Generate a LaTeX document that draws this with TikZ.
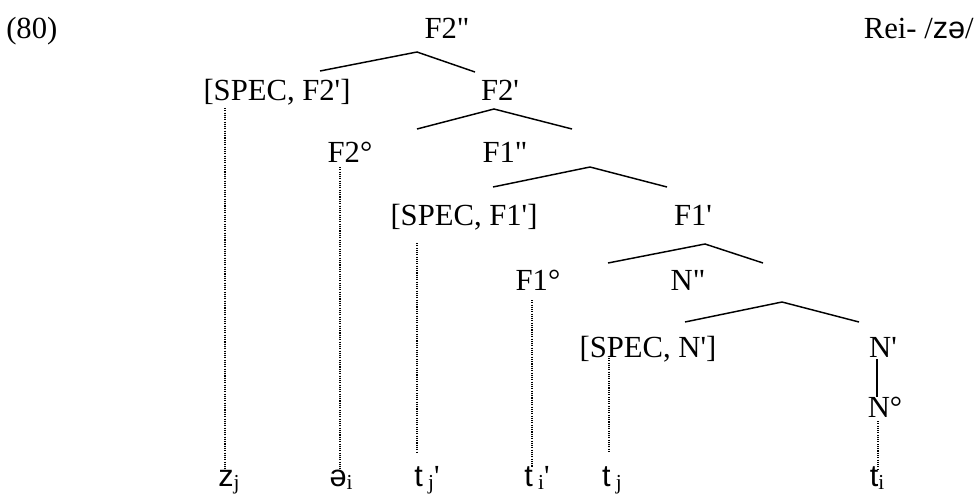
\documentclass[tikz,border=0pt]{standalone}
\usepackage{fontspec}
\setmainfont{Liberation Serif}[Ligatures=TeXOff]
\newfontfamily\ipafont{Liberation Sans}[Ligatures=TeXOff]
\usetikzlibrary{positioning}

\newcommand{\subidx}[1]{\raisebox{-2.5pt}{\fontsize{16}{16}\selectfont #1}}

\begin{document}
\begin{tikzpicture}[x=0.75pt, y=-0.75pt,
    label/.style={inner sep=0pt, anchor=base, font=\fontsize{23}{28}\selectfont},
    branch/.style={line width=1.1pt},
    trace/.style={line width=0.8pt, dash pattern=on 0.8pt off 0.9pt}]
    \useasboundingbox (0, 0) rectangle (976, 497);
    % example number and form
    \node[label, anchor=base west] (num) at (6, 38) {(80)};
    \node[label, anchor=base east] (form) at (974, 38) {Rei- /{\ipafont zə}/};
    % tree labels
    \node[label] (F2pp) at (447, 38) {F2"};
    \node[label] (specFtwo) at (277, 100) {[SPEC, F2']};
    \node[label] (F2p) at (500, 100) {F2'};
    \node[label] (F2h) at (350, 162) {F2°};
    \node[label] (F1pp) at (505, 162) {F1"};
    \node[label] (specFone) at (464, 225) {[SPEC, F1']};
    \node[label] (F1p) at (693, 225) {F1'};
    \node[label] (F1h) at (538, 290) {F1°};
    \node[label] (Npp) at (688, 290) {N"};
    \node[label] (specN) at (648, 357) {[SPEC, N']};
    \node[label] (Np) at (883, 357) {N'};
    \node[label] (Nh) at (885, 417) {N°};
    % leaves
    \node[label] (lz) at (229, 486) {{\ipafont z}\subidx{j}};
    \node[label] (lschwa) at (341, 486) {{\ipafont ə}\subidx{i}};
    \node[label] (ltjone) at (427, 486) {{\ipafont t}\,\subidx{j}'};
    \node[label] (ltione) at (537, 486) {{\ipafont t}\,\subidx{i}'};
    \node[label] (ltjtwo) at (612, 486) {{\ipafont t}\,\subidx{j}};
    \node[label] (ltitwo) at (877, 486) {{\ipafont t}\subidx{i}};
    % branch points
    \coordinate (bA) at (417, 52);
    \coordinate (bB) at (494, 109);
    \coordinate (bC) at (590, 167);
    \coordinate (bD) at (705, 244);
    \coordinate (bE) at (782, 302);
    \draw[branch]
    (320, 71) -- (bA) -- (475, 72)
    (417, 129) -- (bB) -- (572, 129)
    (493, 187) -- (bC) -- (667, 187)
    (608, 263) -- (bD) -- (763, 263)
    (685, 322) -- (bE) -- (859, 322);
    \draw[branch] (877, 359) -- (877, 397);
    % traces
    \coordinate (tz) at (225, 108);
    \coordinate (tschwa) at (340, 167);
    \coordinate (ttjone) at (417, 243);
    \coordinate (ttione) at (532, 300);
    \coordinate (ttjtwo) at (609, 358);
    \coordinate (ttitwo) at (878, 421);
    \draw[trace]
    (tz) -- (225, 469)
    (tschwa) -- (340, 469)
    (ttjone) -- (417, 452)
    (ttione) -- (532, 467)
    (ttjtwo) -- (609, 452)
    (ttitwo) -- (878, 470);
\end{tikzpicture}
\end{document}
